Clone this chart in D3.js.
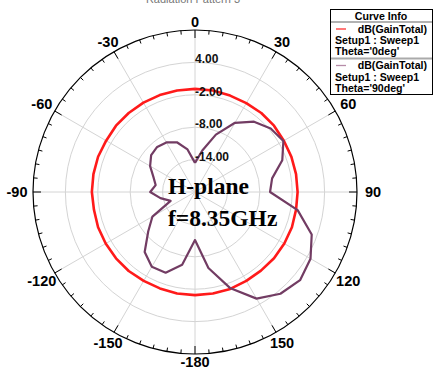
<!DOCTYPE html>
<html>
<head>
<meta charset="utf-8">
<script src="https://cdn.jsdelivr.net/npm/d3@7"></script>
<style>
  body { margin: 0; background: #fff; }
  text { font-family: "Liberation Sans", Arial, sans-serif; }
</style>
</head>
<body>
<div id="chart"></div>
<script>
// data
var phiDeg = [0, 10, 20, 30, 40, 50, 60, 70, 80, 90, 100, 110, 120, 130, 140, 150, 160, 170,
  180, 190, 200, 210, 220, 230, 240, 250, 260, 270, 280, 290, 300, 310, 320, 330, 340, 350, 360];

// Theta = 0deg (red), almost a circle
var gainTheta0 = [-0.9, -0.9, -1.0, -1.0, -0.9, -0.9, -1.0, -1.0, -1.0, -1.0, -1.0, -0.9,
  -0.9, -0.9, -1.0, -1.0, -0.9, -0.9, -0.9, -0.9, -1.0, -1.0, -0.9, -0.9, -0.9, -0.9,
  -1.0, -0.9, -0.9, -0.9, -1.0, -0.9, -0.9, -0.9, -0.9, -0.9, -0.9];

// Theta = 90deg (purple)
var gainTheta90 = [-14.6, -12.2, -8.7, -5.2, -3.0, -1.7, -1.1, -2.8, -5.5, -6.1, -0.7, 3.0,
  4.7, 5.4, 4.6, 2.8, -1.1, -5.7, -11.1, -6.3, -4.1, -4.0, -5.5, -8.7, -10.9, -15.2,
  -13.5, -11.7, -12.6, -11.8, -10.4, -9.4, -9.1, -9.4, -10.2, -12.0, -14.6];

var ringValues = [-14, -8, -2, 4];
var ringLabels = ["-14.00", "-8.00", "-2.00", "4.00"];

var angleTicks = [0, 30, 60, 90, 120, 150, 180, 210, 240, 270, 300, 330];
var angleLabels = ["0", "30", "60", "90", "120", "150", "-180", "-150", "-120", "-90", "-60", "-30"];

var legendNames = ["dB(GainTotal)", "dB(GainTotal)"];
var legendSetups = ["Setup1 : Sweep1", "Setup1 : Sweep1"];
var legendThetas = ["Theta='0deg'", "Theta='90deg'"];
var curveColors = ["#ff1a1a", "#723c63"];
var legendDashColors = ["#ff3030", "#b68ca8"];

var svgWidth = 436;
var svgHeight = 371;
var cx = 195;
var cy = 192;
var outerR = 162;

var svg = d3.select("#chart")
  .append("svg")
  .attr("width", svgWidth)
  .attr("height", svgHeight);

svg.append("rect")
  .attr("width", svgWidth)
  .attr("height", svgHeight)
  .attr("fill", "#fff");

// title, cut off by the top edge like in the original
svg.append("text")
  .attr("x", 193)
  .attr("y", 3)
  .attr("text-anchor", "middle")
  .attr("font-size", "11px")
  .attr("fill", "#777")
  .text("Radiation Pattern 3");

var chartGroup = svg.append("g")
  .attr("transform", `translate(${cx}, ${cy})`);

var rScale = d3.scaleLinear()
  .domain([-20, 10])
  .range([0, outerR]);

var toRad = d => d * Math.PI / 180;

// grid circles
chartGroup.selectAll(".ring")
  .data(ringValues)
  .enter()
  .append("circle")
  .attr("r", d => rScale(d))
  .attr("fill", "none")
  .attr("stroke", "#d4d4d4")
  .attr("stroke-width", 1);

// spokes
chartGroup.selectAll(".spoke")
  .data(angleTicks)
  .enter()
  .append("line")
  .attr("x1", 0)
  .attr("y1", 0)
  .attr("x2", d => outerR * Math.sin(toRad(d)))
  .attr("y2", d => -outerR * Math.cos(toRad(d)))
  .attr("stroke", "#d4d4d4")
  .attr("stroke-width", 1);

// outer circle + ticks
chartGroup.append("circle")
  .attr("r", outerR)
  .attr("fill", "none")
  .attr("stroke", "#000")
  .attr("stroke-width", 1.2);

var minorTicks = d3.range(0, 360, 5);
chartGroup.selectAll(".tick")
  .data(minorTicks)
  .enter()
  .append("line")
  .attr("x1", d => outerR * Math.sin(toRad(d)))
  .attr("y1", d => -outerR * Math.cos(toRad(d)))
  .attr("x2", d => (outerR - (d % 30 === 0 ? 8 : 4)) * Math.sin(toRad(d)))
  .attr("y2", d => -(outerR - (d % 30 === 0 ? 8 : 4)) * Math.cos(toRad(d)))
  .attr("stroke", "#000")
  .attr("stroke-width", 1);

// angle labels
chartGroup.selectAll(".alabel")
  .data(angleTicks)
  .enter()
  .append("text")
  .attr("x", d => (170 + 8 * Math.abs(Math.sin(toRad(d)))) * Math.sin(toRad(d)))
  .attr("y", d => -(170 + 8 * Math.abs(Math.sin(toRad(d)))) * Math.cos(toRad(d)))
  .attr("text-anchor", "middle")
  .attr("dy", "0.36em")
  .attr("font-size", "14.5px")
  .attr("font-weight", "bold")
  .attr("fill", "#000")
  .text((d, i) => angleLabels[i]);

// curves
var radialLine = d3.lineRadial()
  .angle(d => toRad(d[0]))
  .radius(d => rScale(d[1]));

var series = [
  phiDeg.map((p, i) => [p, gainTheta0[i]]),
  phiDeg.map((p, i) => [p, gainTheta90[i]])
];

chartGroup.selectAll(".curve")
  .data(series)
  .enter()
  .append("path")
  .attr("d", radialLine)
  .attr("fill", "none")
  .attr("stroke", (d, i) => curveColors[i])
  .attr("stroke-width", (d, i) => i === 0 ? 2.6 : 2.2)
  .attr("stroke-linejoin", "round");

// ring labels along the 0 axis
chartGroup.selectAll(".rlabel")
  .data(ringValues)
  .enter()
  .append("text")
  .attr("x", 0)
  .attr("y", d => -rScale(d) + 1)
  .attr("font-size", "12px")
  .attr("font-weight", "bold")
  .attr("fill", "#111")
  .text((d, i) => ringLabels[i]);

// annotation in the middle
var note = svg.append("g")
  .attr("font-weight", "bold")
  .attr("font-size", "23.5px")
  .attr("fill", "#000");

note.append("text")
  .attr("x", 168)
  .attr("y", 194)
  .style("font-family", "'Liberation Serif', 'Times New Roman', serif")
  .text("H-plane");

note.append("text")
  .attr("x", 168)
  .attr("y", 226)
  .style("font-family", "'Liberation Serif', 'Times New Roman', serif")
  .text("f=8.35GHz");

// legend box
var legend = svg.append("g")
  .attr("font-size", "10.6px")
  .attr("font-weight", "bold");

legend.append("rect")
  .attr("x", 330.5)
  .attr("y", 9.5)
  .attr("width", 102)
  .attr("height", 85)
  .attr("fill", "#fff")
  .attr("stroke", "#000");

legend.append("text")
  .attr("x", 381)
  .attr("y", 19.5)
  .attr("text-anchor", "middle")
  .text("Curve Info");

legend.append("line")
  .attr("x1", 331)
  .attr("x2", 432)
  .attr("y1", 22)
  .attr("y2", 22)
  .attr("stroke", "#999")
  .attr("stroke-width", 1.5);

legendNames.forEach(function(name, i) {
  var top = 22 + i * 36.5;
  if (i > 0) {
    legend.append("line")
      .attr("x1", 331)
      .attr("x2", 432)
      .attr("y1", top)
      .attr("y2", top)
      .attr("stroke", "#aaa")
      .attr("stroke-width", 2);
  }
  legend.append("line")
    .attr("x1", 336)
    .attr("x2", 346)
    .attr("y1", top + 7)
    .attr("y2", top + 7)
    .attr("stroke", legendDashColors[i])
    .attr("stroke-width", 1.3);
  legend.append("text")
    .attr("x", 427)
    .attr("y", top + 10.5)
    .attr("text-anchor", "end")
    .text(name);
  legend.append("text")
    .attr("x", 335)
    .attr("y", top + 22)
    .text(legendSetups[i]);
  legend.append("text")
    .attr("x", 335)
    .attr("y", top + 33)
    .text(legendThetas[i]);
});
</script>
</body>
</html>
